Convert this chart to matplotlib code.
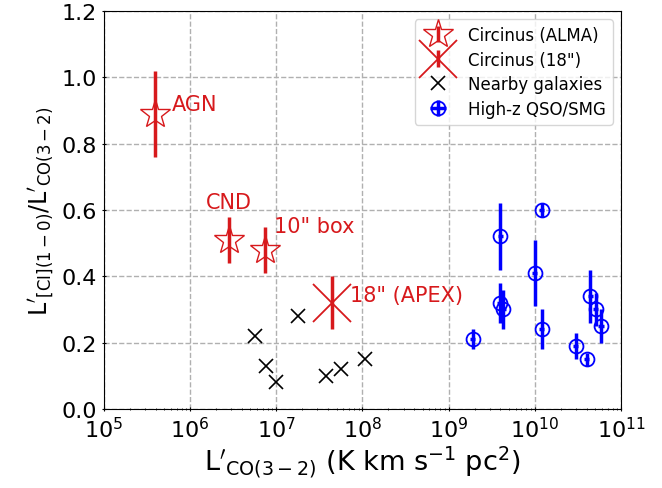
import matplotlib
matplotlib.use('Agg')
import matplotlib.pyplot as plt
import numpy as np

red = '#d7191c'

# Circinus ALMA regions
alma_names = ['AGN', 'CND', '10" box']
alma_lco = [3.9e5, 2.8e6, 7.4e6]
alma_ratio = [0.89, 0.51, 0.48]
alma_err = [0.13, 0.07, 0.07]

# Circinus APEX 18"
apex_lco = [4.4e7]
apex_ratio = [0.32]
apex_err = [0.08]

# nearby galaxies
near_lco = [5.6e6, 7.6e6, 1.0e7, 1.8e7, 3.8e7, 5.6e7, 1.07e8]
near_ratio = [0.22, 0.13, 0.08, 0.28, 0.10, 0.12, 0.15]

# high-z QSO/SMG
hz_lco = [1.9e9, 4.0e9, 3.9e9, 4.3e9, 1.0e10, 1.2e10, 1.2e10,
          3.0e10, 4.0e10, 4.4e10, 5.1e10, 5.9e10]
hz_ratio = [0.21, 0.52, 0.32, 0.30, 0.41, 0.60, 0.24,
            0.19, 0.15, 0.34, 0.30, 0.25]
hz_err = [0.03, 0.10, 0.06, 0.06, 0.10, 0.02, 0.06,
          0.04, 0.02, 0.08, 0.05, 0.05]

fig = plt.figure(figsize=(6.62, 4.89), dpi=100)
ax = fig.add_axes([0.157, 0.1616, 0.781, 0.814])

h_alma = ax.errorbar(alma_lco, alma_ratio, yerr=alma_err, fmt='*', ms=22,
                     mfc='none', mec=red, color=red, ecolor=red,
                     elinewidth=2.5, capsize=0, label='Circinus (ALMA)', zorder=3)
h_apex = ax.errorbar(apex_lco, apex_ratio, yerr=apex_err, fmt='x', ms=28,
                     mew=1.3, color=red, ecolor=red, elinewidth=2.5, capsize=0,
                     label='Circinus (18")', zorder=3)
h_near, = ax.plot(near_lco, near_ratio, 'x', color='black', ms=10, mew=1.2,
                  label='Nearby galaxies', zorder=3)
h_hz = ax.errorbar(hz_lco, hz_ratio, yerr=hz_err, xerr=np.array(hz_lco) * 0.07,
                   fmt='o', ms=10, mfc='none', mec='blue', mew=1.3,
                   color='blue', ecolor='blue', elinewidth=2.5, capsize=0,
                   label='High-z QSO/SMG', zorder=3)

ax.text(6.2e5, 0.92, alma_names[0], color=red, fontsize=15, ha='left', va='center')
ax.text(2.8e6, 0.625, alma_names[1], color=red, fontsize=15, ha='center', va='center')
ax.text(9.3e6, 0.553, alma_names[2], color=red, fontsize=15, ha='left', va='center')
ax.text(7.1e7, 0.343, '18" (APEX)', color=red, fontsize=15, ha='left', va='center')

ax.set_xscale('log')
ax.set_xlim(1e5, 1e11)
ax.set_ylim(0, 1.2)
ax.set_yticks(np.arange(0, 1.21, 0.2))
ax.tick_params(which='both', direction='inout', labelsize=16)
ax.grid(True, ls='--', color='#b0b0b0', lw=1)
ax.set_axisbelow(True)

ax.set_xlabel(r"$\mathrm{L}'_{\rm CO(3-2)}$ (K km s$^{-1}$ pc$^{2}$)", fontsize=19.5,
              labelpad=2)
ax.set_ylabel(r"$\mathrm{L}'_{\rm [CI](1-0)}/\mathrm{L}'_{\rm CO(3-2)}$", fontsize=17,
              labelpad=4)

ax.legend([h_alma, h_apex, h_near, h_hz],
          ['Circinus (ALMA)', 'Circinus (18")', 'Nearby galaxies', 'High-z QSO/SMG'],
          loc='upper right', fontsize=12, handletextpad=0.8,
          borderpad=0.4, labelspacing=0.4)

fig.savefig('out.png', dpi=100)
